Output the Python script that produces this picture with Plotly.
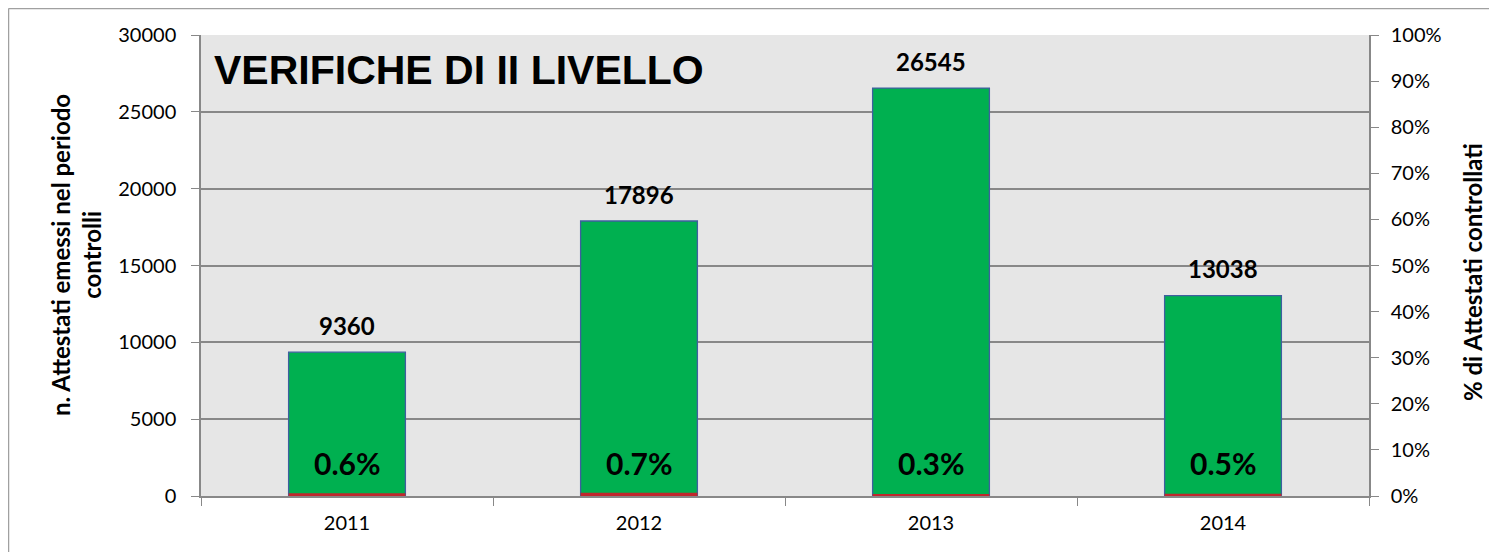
import plotly.graph_objects as go

years = ["2011", "2012", "2013", "2014"]
attestati = [9360, 17896, 26545, 13038]
pct_controllati = [0.006, 0.007, 0.003, 0.005]
pct_labels = ["0.6%", "0.7%", "0.3%", "0.5%"]
left_ticks = [0, 5000, 10000, 15000, 20000, 25000, 30000]
right_ticks = [i / 10 for i in range(11)]

# page body has an 8px margin: figure origin is at screen (8, 8)
W, H = 1489, 544
L, R, T, B = 193, 128, 27, 56
pw, ph = W - L - R, H - T - B
OFF = 8


def px(xs):
    return (xs - OFF - L) / pw


def py(ys):
    return (H - B - (ys - OFF)) / ph


FONT = "Lato, Carlito, sans-serif"

fig = go.Figure()
fig.add_trace(go.Bar(x=years, y=attestati, width=0.4,
                     marker=dict(color="#00b050", line=dict(color="#3f5f9f", width=1.3)),
                     yaxis="y", hoverinfo="skip"))
fig.add_trace(go.Bar(x=years, y=pct_controllati, width=0.4,
                     marker=dict(color="#c0272d", line=dict(width=0)),
                     yaxis="y2", hoverinfo="skip"))

ann = []
for i, v in enumerate(attestati):
    ann.append(dict(x=i, y=v, xref="x", yref="y", text=f"<b>{v}</b>", showarrow=False, yshift=27,
                    yanchor="middle", font=dict(family=FONT, size=24, color="black")))
for i, t in enumerate(pct_labels):
    ann.append(dict(x=i, y=0, xref="x", yref="y", text=f"<b>{t}</b>", showarrow=False, yshift=33,
                    yanchor="middle", font=dict(family=FONT, size=30, color="black")))
ann.append(dict(x=px(212), y=py(70), xref="paper", yref="paper", xanchor="left", yanchor="middle",
                text="<b>VERIFICHE DI II LIVELLO</b>", showarrow=False,
                font=dict(family="Liberation Sans, Arial, sans-serif", size=41, color="black")))
ann.append(dict(x=px(76), y=py(255), xref="paper", yref="paper", textangle=-90,
                xanchor="center", yanchor="middle",
                text="<b>n. Attestati emessi nel periodo<br>controlli</b>", showarrow=False,
                font=dict(family=FONT, size=24, color="black")))
ann.append(dict(x=px(1472), y=py(272), xref="paper", yref="paper", textangle=-90,
                xanchor="center", yanchor="middle",
                text="<b>% di Attestati controllati</b>", showarrow=False,
                font=dict(family=FONT, size=24, color="black")))

shapes = [
    dict(type="line", xref="paper", yref="paper", x0=px(8.5), x1=px(1500),
         y0=py(8.5), y1=py(8.5), line=dict(color="#a0a0a0", width=1.5)),
    dict(type="line", xref="paper", yref="paper", x0=px(8.5), x1=px(8.5),
         y0=py(8.5), y1=py(560), line=dict(color="#a0a0a0", width=1.5)),
]

fig.update_layout(
    width=W, height=H, margin=dict(l=L, r=R, t=T, b=B),
    paper_bgcolor="white", plot_bgcolor="#e6e6e6",
    barmode="overlay", showlegend=False,
    font=dict(family=FONT, size=20, color="black"),
    xaxis=dict(type="category", range=[-0.5, 3.5], showline=True, linecolor="#888888", linewidth=1.5,
               ticks="outside", tickson="boundaries", ticklen=8, tickcolor="#888888",
               tickfont=dict(size=20), showgrid=False, tickangle=0, ticklabelstandoff=8),
    yaxis=dict(range=[0, 30000], tickvals=left_ticks, tickformat="d", showline=True,
               linecolor="#888888", linewidth=1.5, ticks="outside", ticklen=8, tickcolor="#888888",
               showgrid=True, gridcolor="#888888", gridwidth=1.5, zeroline=False,
               tickfont=dict(size=20), ticklabelstandoff=11),
    yaxis2=dict(range=[0, 1], tickvals=right_ticks, tickformat=".0%", overlaying="y", side="right",
                showline=True, linecolor="#888888", linewidth=1.5, ticks="outside", ticklen=8,
                tickcolor="#888888", showgrid=False, zeroline=False, tickfont=dict(size=20),
                ticklabelstandoff=8),
    annotations=ann, shapes=shapes,
)

fig.write_html("out.html")
